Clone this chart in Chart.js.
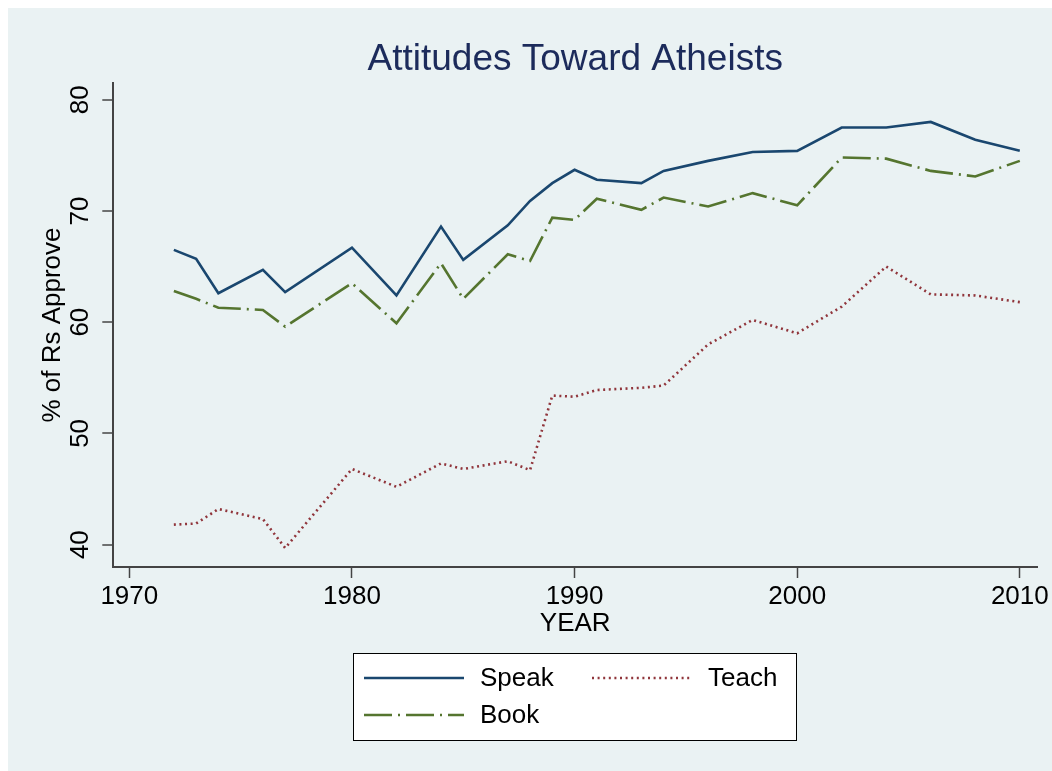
<!DOCTYPE html>
<html>
<head>
<meta charset="utf-8">
<title>Attitudes Toward Atheists</title>
<script src="https://cdn.jsdelivr.net/npm/chart.js@4"></script>
<style>
  body { margin: 0; background: #ffffff; }
  #wrap { position: absolute; left: 8px; top: 8px; width: 1044px; height: 763px; background: #eaf2f3; }
</style>
</head>
<body>
<div id="wrap"><canvas id="myChart" width="1044" height="763"></canvas></div>
<script>
'use strict';

//---------------------- data -------------------
let years = [1972, 1973, 1974, 1976, 1977, 1980, 1982, 1984, 1985, 1987, 1988, 1989, 1990, 1991, 1993, 1994, 1996, 1998, 2000, 2002, 2004, 2006, 2008, 2010];
let speak = [66.5, 65.7, 62.6, 64.7, 62.7, 66.7, 62.4, 68.6, 65.6, 68.7, 70.9, 72.5, 73.7, 72.8, 72.5, 73.6, 74.5, 75.3, 75.4, 77.5, 77.5, 78.0, 76.4, 75.4];
let teach = [41.8, 41.9, 43.2, 42.3, 39.7, 46.8, 45.2, 47.3, 46.8, 47.5, 46.7, 53.4, 53.3, 53.9, 54.1, 54.3, 58.0, 60.2, 59.0, 61.4, 65.0, 62.5, 62.4, 61.8];
let book = [62.8, 62.1, 61.3, 61.1, 59.6, 63.5, 59.9, 65.3, 62.1, 66.1, 65.5, 69.4, 69.2, 71.1, 70.1, 71.2, 70.4, 71.6, 70.5, 74.8, 74.7, 73.6, 73.1, 74.5];
let seriesNames = ['Speak', 'Teach', 'Book'];
let yTicks = [40, 50, 60, 70, 80];
let xTicks = [1970, 1980, 1990, 2000, 2010];

let fontFamily = '"Liberation Sans", Arial, sans-serif';
Chart.defaults.font.family = fontFamily;

function toPoints(values) {
  return years.map((y, i) => ({ x: y, y: values[i] }));
}

// y labels are turned like in the Stata original, legend sits in a framed box
let stataBits = {
  id: 'stataBits',
  afterDraw(chart) {
    let ctx = chart.ctx;
    let yScale = chart.scales.y;
    ctx.save();
    ctx.fillStyle = '#000000';
    ctx.font = '26px ' + fontFamily;
    ctx.textAlign = 'center';
    ctx.textBaseline = 'middle';
    yTicks.forEach(v => {
      let py = yScale.getPixelForValue(v);
      ctx.save();
      ctx.translate(73, py);
      ctx.rotate(-Math.PI / 2);
      ctx.fillText(String(v), 0, 0);
      ctx.restore();
    });

    // legend box
    let boxL = 345.5, boxT = 645.5, boxR = 788.5, boxB = 732.5;
    ctx.fillStyle = '#ffffff';
    ctx.fillRect(boxL, boxT, boxR - boxL, boxB - boxT);
    ctx.strokeStyle = '#000000';
    ctx.lineWidth = 1;
    ctx.strokeRect(boxL, boxT, boxR - boxL, boxB - boxT);

    let colX = [356, 584];
    let rowY = [670, 707];
    chart.data.datasets.forEach((ds, i) => {
      let col = i % 2;
      let row = Math.floor(i / 2);
      let x0 = colX[col];
      let y0 = rowY[row];
      ctx.save();
      ctx.strokeStyle = ds.borderColor;
      ctx.lineWidth = ds.borderWidth;
      ctx.setLineDash(ds.borderDash || []);
      ctx.beginPath();
      ctx.moveTo(x0, y0);
      ctx.lineTo(x0 + 100, y0);
      ctx.stroke();
      ctx.restore();
      ctx.fillStyle = '#000000';
      ctx.textAlign = 'left';
      ctx.fillText(ds.label, x0 + 116, y0 + 1);
    });
    ctx.restore();
  }
};

let ctx = document.getElementById('myChart').getContext('2d');
let myChart = new Chart(ctx, {
  type: 'line',
  data: {
    datasets: [
      {
        label: seriesNames[0],
        data: toPoints(speak),
        borderColor: '#1a476f',
        borderWidth: 2.6,
      },
      {
        label: seriesNames[1],
        data: toPoints(teach),
        borderColor: '#90353b',
        borderWidth: 2.6,
        borderDash: [2, 3.6],
      },
      {
        label: seriesNames[2],
        data: toPoints(book),
        borderColor: '#55752f',
        borderWidth: 2.6,
        borderDash: [28, 6, 2, 6],
      },
    ],
  },
  options: {
    responsive: false,
    animation: false,
    elements: {
      point: { radius: 0 },
      line: { tension: 0 },
    },
    layout: {
      padding: { left: 0, right: 14.7, top: 0, bottom: 131.4 },
    },
    plugins: {
      legend: { display: false },
      tooltip: { enabled: false },
      title: {
        display: true,
        fullSize: false,
        text: 'Attitudes Toward Atheists',
        color: '#1c2b5b',
        font: { size: 37, weight: 'normal' },
        padding: { top: 29.5, bottom: 1.1 },
      },
    },
    scales: {
      x: {
        type: 'linear',
        min: 1969.28,
        max: 2010.78,
        afterBuildTicks: scale => {
          scale.ticks = xTicks.map(v => ({ value: v }));
        },
        afterFit: scale => {
          scale.height = 72.6;
        },
        ticks: {
          color: '#000000',
          font: { size: 26 },
          padding: 3,
          maxRotation: 0,
          callback: v => String(v),
        },
        grid: {
          drawOnChartArea: false,
          drawTicks: true,
          tickLength: 11,
          tickColor: '#444444',
          tickWidth: 1.5,
        },
        border: { color: '#444444', width: 2 },
        title: {
          display: true,
          text: 'YEAR',
          color: '#000000',
          font: { size: 26 },
          padding: { top: 0, bottom: 0 },
        },
      },
      y: {
        min: 37.99,
        max: 81.5,
        afterBuildTicks: scale => {
          scale.ticks = yTicks.map(v => ({ value: v }));
        },
        afterFit: scale => {
          scale.width = 105.3;
        },
        ticks: { display: false },
        grid: {
          color: '#eaf2f3',
          lineWidth: 2,
          drawTicks: true,
          tickLength: 11,
          tickColor: '#444444',
          tickWidth: 1.5,
        },
        border: { color: '#444444', width: 2 },
        title: {
          display: true,
          text: '% of Rs Approve',
          color: '#000000',
          font: { size: 26 },
          padding: { top: 29, bottom: 0 },
        },
      },
    },
  },
  plugins: [stataBits],
});
</script>
</body>
</html>
